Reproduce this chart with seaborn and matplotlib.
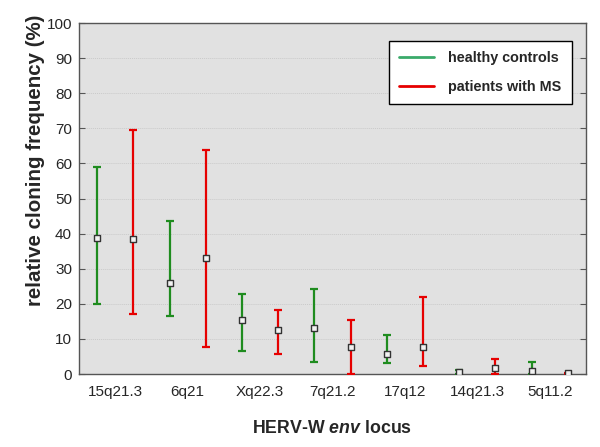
import numpy as np
import pandas as pd
import matplotlib
matplotlib.use('Agg')
import matplotlib.pyplot as plt
import seaborn as sns
from matplotlib.lines import Line2D

# values (percent)
loci = ['15q21.3', '6q21', 'Xq22.3', '7q21.2', '17q12', '14q21.3', '5q11.2']
ctrl_mean = [38.8, 26.0, 15.5, 13.0, 5.8, 0.6, 0.8]
ctrl_low = [20.0, 16.5, 6.5, 3.5, 3.2, 0.0, 0.0]
ctrl_high = [59.0, 43.5, 22.8, 24.3, 11.0, 1.2, 3.4]
ms_mean = [38.4, 33.0, 12.5, 7.8, 7.8, 1.6, 0.2]
ms_low = [17.2, 7.8, 5.8, 0.0, 2.2, 0.0, 0.0]
ms_high = [69.4, 63.8, 18.3, 15.4, 21.9, 4.3, 0.2]

green = '#1f8c1f'
red = '#e60000'

sns.set_style('white')
plt.rcParams['font.family'] = ['Liberation Sans', 'DejaVu Sans']
plt.rcParams['mathtext.fontset'] = 'custom'
plt.rcParams['mathtext.it'] = 'Liberation Sans:italic:bold'
plt.rcParams['mathtext.rm'] = 'Liberation Sans:bold'

rows = []
for i, loc in enumerate(loci):
    rows.append({'locus': loc, 'group': 'healthy controls', 'pos': 2 * i,
                 'mean': ctrl_mean[i], 'low': ctrl_low[i], 'high': ctrl_high[i]})
    rows.append({'locus': loc, 'group': 'patients with MS', 'pos': 2 * i + 1,
                 'mean': ms_mean[i], 'low': ms_low[i], 'high': ms_high[i]})
df = pd.DataFrame(rows)

fig = plt.figure(figsize=(6, 4.47), dpi=100)
ax = fig.add_axes([0.1317, 0.1633, 0.845, 0.785])
ax.set_facecolor('#e1e1e1')

for grp, col in [('healthy controls', green), ('patients with MS', red)]:
    sub = df[df['group'] == grp]
    yerr = [sub['mean'] - sub['low'], sub['high'] - sub['mean']]
    ax.errorbar(sub['pos'], sub['mean'], yerr=yerr, fmt='none', ecolor=col,
                elinewidth=1.6, capsize=3, capthick=1.6, zorder=3)

sns.scatterplot(data=df, x='pos', y='mean', marker='s', s=22, color='#f2f2f2',
                edgecolor='#333333', linewidth=1.0, ax=ax, zorder=4, legend=False)

ax.set_xlim(-0.5, 13.5)
ax.set_ylim(0, 100)
ax.set_yticks(np.arange(0, 101, 10))
ax.set_xticks([2 * i + 0.5 for i in range(len(loci))])
ax.set_xticklabels(loci)
ax.yaxis.grid(True, linestyle=(0, (1, 1)), color='#cacaca', linewidth=0.7)
ax.set_axisbelow(True)
ax.tick_params(axis='y', direction='in', length=4, width=0.8, color='#555555',
               left=True, right=True, labelsize=11, pad=5)
ax.tick_params(axis='x', length=0, labelsize=11, pad=8)
for s in ax.spines.values():
    s.set_color('#555555')
    s.set_linewidth(1.0)

ax.set_ylabel('relative cloning frequency (%)', fontsize=14.8, fontweight='bold')
ax.yaxis.set_label_coords(-0.068, 0.61)
ax.set_xlabel('HERV-W $\\mathit{env}$ locus', fontsize=12.8, fontweight='bold', labelpad=15)

handles = [Line2D([0], [0], color='#3aaa6a', lw=2),
           Line2D([0], [0], color=red, lw=2)]
leg = ax.legend(handles, ['healthy controls', 'patients with MS'], loc='upper right',
                bbox_to_anchor=(0.972, 0.949), borderaxespad=0, fancybox=False,
                framealpha=1, edgecolor='black', prop={'weight': 'bold', 'size': 10.4},
                handlelength=2.4, borderpad=0.7, labelspacing=1.0, handletextpad=1.0)
leg.get_frame().set_linewidth(1.0)

fig.savefig('out.png', dpi=100)
